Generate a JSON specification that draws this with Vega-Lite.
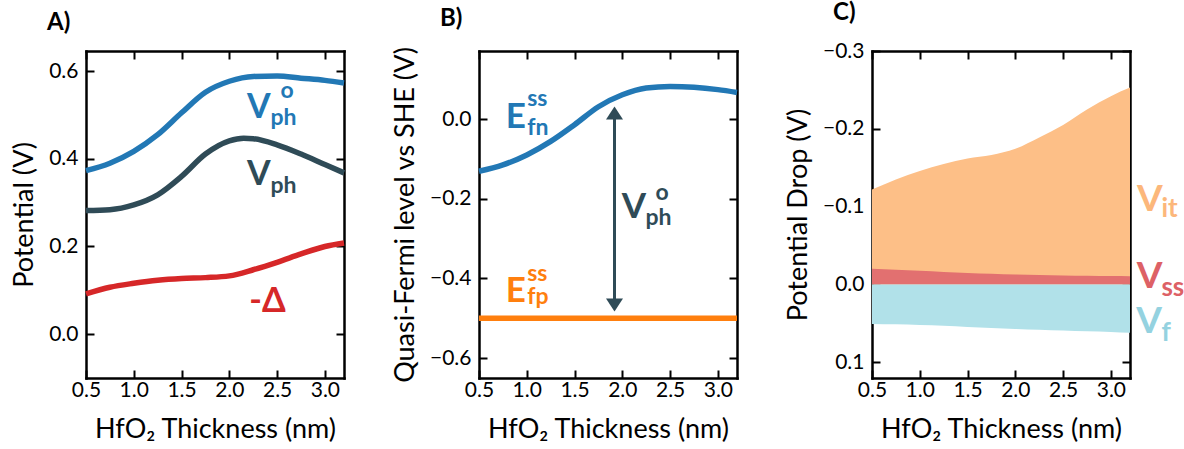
{
  "$schema": "https://vega.github.io/schema/vega-lite/v6.json",
  "background": "white",
  "padding": {"left": 10, "top": 0, "right": 0, "bottom": 0},
  "spacing": 135,
  "bounds": "flush",
  "resolve": {"scale": {"color": "independent", "fill": "independent", "shape": "independent"}},
  "datasets": {
    "lineA": [
      {"x": 0.5, "y": 0.373, "s": "Vph0"}, {"x": 0.75, "y": 0.390, "s": "Vph0"}, {"x": 1.0, "y": 0.417, "s": "Vph0"}, {"x": 1.25, "y": 0.455, "s": "Vph0"}, {"x": 1.5, "y": 0.505, "s": "Vph0"}, {"x": 1.75, "y": 0.552, "s": "Vph0"}, {"x": 2.0, "y": 0.577, "s": "Vph0"}, {"x": 2.25, "y": 0.588, "s": "Vph0"}, {"x": 2.5, "y": 0.589, "s": "Vph0"}, {"x": 2.75, "y": 0.584, "s": "Vph0"}, {"x": 3.0, "y": 0.579, "s": "Vph0"}, {"x": 3.2, "y": 0.573, "s": "Vph0"},
      {"x": 0.5, "y": 0.282, "s": "Vph"}, {"x": 0.75, "y": 0.284, "s": "Vph"}, {"x": 1.0, "y": 0.295, "s": "Vph"}, {"x": 1.25, "y": 0.318, "s": "Vph"}, {"x": 1.5, "y": 0.360, "s": "Vph"}, {"x": 1.75, "y": 0.411, "s": "Vph"}, {"x": 2.0, "y": 0.441, "s": "Vph"}, {"x": 2.15, "y": 0.447, "s": "Vph"}, {"x": 2.25, "y": 0.446, "s": "Vph"}, {"x": 2.5, "y": 0.432, "s": "Vph"}, {"x": 2.75, "y": 0.411, "s": "Vph"}, {"x": 3.0, "y": 0.387, "s": "Vph"}, {"x": 3.2, "y": 0.368, "s": "Vph"},
      {"x": 0.5, "y": 0.092, "s": "Delta"}, {"x": 0.75, "y": 0.107, "s": "Delta"}, {"x": 1.0, "y": 0.116, "s": "Delta"}, {"x": 1.25, "y": 0.123, "s": "Delta"}, {"x": 1.5, "y": 0.127, "s": "Delta"}, {"x": 1.75, "y": 0.129, "s": "Delta"}, {"x": 2.0, "y": 0.133, "s": "Delta"}, {"x": 2.25, "y": 0.147, "s": "Delta"}, {"x": 2.5, "y": 0.164, "s": "Delta"}, {"x": 2.75, "y": 0.183, "s": "Delta"}, {"x": 3.0, "y": 0.200, "s": "Delta"}, {"x": 3.2, "y": 0.208, "s": "Delta"}
    ],
    "labA": [
      {"x": 2.308, "y": 0.493, "t": "V", "s": "Vph0", "part": "big"},
      {"x": 2.536, "y": 0.539, "t": "o", "s": "Vph0", "part": "small"},
      {"x": 2.431, "y": 0.477, "t": "ph", "s": "Vph0", "part": "small"},
      {"x": 2.308, "y": 0.341, "t": "V", "s": "Vph", "part": "big"},
      {"x": 2.431, "y": 0.321, "t": "ph", "s": "Vph", "part": "small"},
      {"x": 2.40, "y": 0.050, "t": "-Δ", "s": "Delta", "part": "big"}
    ],
    "lineB": [
      {"x": 0.5, "y": -0.131, "s": "Efn"}, {"x": 0.75, "y": -0.115, "s": "Efn"}, {"x": 1.0, "y": -0.090, "s": "Efn"}, {"x": 1.25, "y": -0.056, "s": "Efn"}, {"x": 1.5, "y": -0.014, "s": "Efn"}, {"x": 1.75, "y": 0.031, "s": "Efn"}, {"x": 2.0, "y": 0.061, "s": "Efn"}, {"x": 2.25, "y": 0.078, "s": "Efn"}, {"x": 2.5, "y": 0.082, "s": "Efn"}, {"x": 2.75, "y": 0.080, "s": "Efn"}, {"x": 3.0, "y": 0.074, "s": "Efn"}, {"x": 3.2, "y": 0.067, "s": "Efn"},
      {"x": 0.5, "y": -0.5, "s": "Efp"}, {"x": 3.2, "y": -0.5, "s": "Efp"}
    ],
    "labB": [
      {"x": 0.886, "y": -0.0226, "t": "E", "s": "Efn", "part": "big"},
      {"x": 1.004, "y": 0.0319, "t": "ss", "s": "Efn", "part": "small"},
      {"x": 1.004, "y": -0.039, "t": "fn", "s": "Efn", "part": "small"},
      {"x": 0.886, "y": -0.4595, "t": "E", "s": "Efp", "part": "big"},
      {"x": 1.004, "y": -0.4075, "t": "ss", "s": "Efp", "part": "small"},
      {"x": 1.004, "y": -0.463, "t": "fp", "s": "Efp", "part": "small"},
      {"x": 2.12, "y": -0.2486, "t": "V", "s": "Vph0", "part": "big"},
      {"x": 2.347, "y": -0.2026, "t": "o", "s": "Vph0", "part": "small"},
      {"x": 2.242, "y": -0.266, "t": "ph", "s": "Vph0", "part": "small"}
    ],
    "areaC": [
      {"x": 0.5, "hi": -0.122, "lo": 0, "s": "Vit"}, {"x": 0.75, "hi": -0.135, "lo": 0, "s": "Vit"}, {"x": 1.0, "hi": -0.146, "lo": 0, "s": "Vit"}, {"x": 1.25, "hi": -0.155, "lo": 0, "s": "Vit"}, {"x": 1.5, "hi": -0.162, "lo": 0, "s": "Vit"}, {"x": 1.75, "hi": -0.1665, "lo": 0, "s": "Vit"}, {"x": 2.0, "hi": -0.1745, "lo": 0, "s": "Vit"}, {"x": 2.25, "hi": -0.189, "lo": 0, "s": "Vit"}, {"x": 2.5, "hi": -0.205, "lo": 0, "s": "Vit"}, {"x": 2.75, "hi": -0.225, "lo": 0, "s": "Vit"}, {"x": 3.0, "hi": -0.242, "lo": 0, "s": "Vit"}, {"x": 3.2, "hi": -0.253, "lo": 0, "s": "Vit"},
      {"x": 0.5, "hi": -0.0202, "lo": 0, "s": "Vss"}, {"x": 0.75, "hi": -0.019, "lo": 0, "s": "Vss"}, {"x": 1.0, "hi": -0.0178, "lo": 0, "s": "Vss"}, {"x": 1.25, "hi": -0.0163, "lo": 0, "s": "Vss"}, {"x": 1.5, "hi": -0.015, "lo": 0, "s": "Vss"}, {"x": 1.75, "hi": -0.014, "lo": 0, "s": "Vss"}, {"x": 2.0, "hi": -0.0129, "lo": 0, "s": "Vss"}, {"x": 2.25, "hi": -0.0122, "lo": 0, "s": "Vss"}, {"x": 2.5, "hi": -0.0116, "lo": 0, "s": "Vss"}, {"x": 2.75, "hi": -0.0112, "lo": 0, "s": "Vss"}, {"x": 3.0, "hi": -0.0109, "lo": 0, "s": "Vss"}, {"x": 3.2, "hi": -0.0108, "lo": 0, "s": "Vss"},
      {"x": 0.5, "hi": 0, "lo": 0.0505, "s": "Vf"}, {"x": 0.75, "hi": 0, "lo": 0.051, "s": "Vf"}, {"x": 1.0, "hi": 0, "lo": 0.052, "s": "Vf"}, {"x": 1.25, "hi": 0, "lo": 0.053, "s": "Vf"}, {"x": 1.5, "hi": 0, "lo": 0.0544, "s": "Vf"}, {"x": 1.75, "hi": 0, "lo": 0.0557, "s": "Vf"}, {"x": 2.0, "hi": 0, "lo": 0.057, "s": "Vf"}, {"x": 2.25, "hi": 0, "lo": 0.058, "s": "Vf"}, {"x": 2.5, "hi": 0, "lo": 0.059, "s": "Vf"}, {"x": 2.75, "hi": 0, "lo": 0.060, "s": "Vf"}, {"x": 3.0, "hi": 0, "lo": 0.0608, "s": "Vf"}, {"x": 3.2, "hi": 0, "lo": 0.062, "s": "Vf"}
    ],
    "labC": [
      {"x": 3.408, "y": -0.0944, "t": "V", "s": "Vit", "part": "big"},
      {"x": 3.529, "y": -0.087, "t": "it", "s": "Vit", "part": "small"},
      {"x": 3.405, "y": 0.0042, "t": "V", "s": "Vss", "part": "big"},
      {"x": 3.529, "y": 0.0145, "t": "ss", "s": "Vss", "part": "small"},
      {"x": 3.40, "y": 0.0621, "t": "V", "s": "Vf", "part": "big"},
      {"x": 3.529, "y": 0.0724, "t": "f", "s": "Vf", "part": "small"}
    ]
  },
  "hconcat": [
    {
      "width": 258, "height": 327,
      "title": {"text": "A)"},
      "resolve": {"axis": {"x": "independent", "y": "independent"}},
      "layer": [
        {
          "data": {"name": "lineA"},
          "mark": {"type": "line", "strokeWidth": 5.5, "interpolate": "monotone"},
          "encoding": {
            "x": {"field": "x", "type": "quantitative", "scale": {"domain": [0.5, 3.2], "nice": false, "zero": false}, "axis": {"values": [0.5, 1, 1.5, 2, 2.5, 3], "format": ".1f", "title": "HfO₂ Thickness (nm)"}},
            "y": {"field": "y", "type": "quantitative", "scale": {"domain": [-0.1, 0.646], "nice": false, "zero": false}, "axis": {"values": [0, 0.2, 0.4, 0.6], "format": ".1f", "title": "Potential (V)"}},
            "color": {"field": "s", "type": "nominal", "scale": {"domain": ["Vph0", "Vph", "Delta"], "range": ["#2278b5", "#2f4b57", "#d62728"]}, "legend": null}
          }
        },
        {
          "data": {"name": "labA"},
          "transform": [{"filter": "datum.part == 'big'"}],
          "mark": {"type": "text", "fontSize": 34, "fontWeight": "bold", "align": "center", "baseline": "alphabetic", "font": "Lato"},
          "encoding": {
            "x": {"field": "x", "type": "quantitative", "scale": {"domain": [0.5, 3.2], "nice": false, "zero": false}, "axis": {"orient": "top", "labels": false, "title": null, "values": [0.5, 1, 1.5, 2, 2.5, 3]}},
            "y": {"field": "y", "type": "quantitative", "scale": {"domain": [-0.1, 0.646], "nice": false, "zero": false}, "axis": {"orient": "right", "labels": false, "title": null, "values": [0, 0.2, 0.4, 0.6]}},
            "text": {"field": "t"},
            "color": {"field": "s", "type": "nominal", "legend": null}
          }
        },
        {
          "data": {"name": "labA"},
          "transform": [{"filter": "datum.part == 'small'"}],
          "mark": {"type": "text", "fontSize": 23, "fontWeight": "bold", "align": "left", "baseline": "alphabetic", "font": "Lato"},
          "encoding": {
            "x": {"field": "x", "type": "quantitative", "scale": {"domain": [0.5, 3.2], "nice": false, "zero": false}, "axis": null},
            "y": {"field": "y", "type": "quantitative", "scale": {"domain": [-0.1, 0.646], "nice": false, "zero": false}, "axis": null},
            "text": {"field": "t"},
            "color": {"field": "s", "type": "nominal", "legend": null}
          }
        }
      ]
    },
    {
      "width": 258, "height": 327,
      "title": {"text": "B)"},
      "resolve": {"axis": {"x": "independent", "y": "independent"}},
      "layer": [
        {
          "data": {"name": "lineB"},
          "mark": {"type": "line", "strokeWidth": 5.5, "interpolate": "monotone"},
          "encoding": {
            "x": {"field": "x", "type": "quantitative", "scale": {"domain": [0.5, 3.2], "nice": false, "zero": false}, "axis": {"values": [0.5, 1, 1.5, 2, 2.5, 3], "format": ".1f", "title": "HfO₂ Thickness (nm)"}},
            "y": {"field": "y", "type": "quantitative", "scale": {"domain": [-0.65, 0.171], "nice": false, "zero": false}, "axis": {"values": [-0.6, -0.4, -0.2, 0], "format": ".1f", "title": "Quasi-Fermi level vs SHE (V)"}},
            "color": {"field": "s", "type": "nominal", "scale": {"domain": ["Efn", "Efp", "Vph0"], "range": ["#2278b5", "#ff7f0e", "#2f4b57"]}, "legend": null}
          }
        },
        {
          "data": {"values": [{"x": 1.918, "y1": 0.0105, "y2": -0.4615}]},
          "mark": {"type": "rule", "strokeWidth": 3, "color": "#2f4b57"},
          "encoding": {
            "x": {"field": "x", "type": "quantitative", "scale": {"domain": [0.5, 3.2], "nice": false, "zero": false}, "axis": null},
            "y": {"field": "y1", "type": "quantitative", "scale": {"domain": [-0.65, 0.171], "nice": false, "zero": false}, "axis": null},
            "y2": {"field": "y2"}
          }
        },
        {
          "data": {"values": [{"x": 1.918, "y": 0.0105, "d": "up"}, {"x": 1.918, "y": -0.4615, "d": "down"}]},
          "mark": {"type": "point", "filled": true, "opacity": 1, "size": 289, "color": "#2f4b57", "strokeWidth": 0},
          "encoding": {
            "x": {"field": "x", "type": "quantitative", "scale": {"domain": [0.5, 3.2], "nice": false, "zero": false}, "axis": null},
            "y": {"field": "y", "type": "quantitative", "scale": {"domain": [-0.65, 0.171], "nice": false, "zero": false}, "axis": null},
            "shape": {"field": "d", "type": "nominal", "scale": {"domain": ["up", "down"], "range": ["M0,-1L-1,0.53L1,0.53Z", "M0,1L-1,-0.53L1,-0.53Z"]}, "legend": null}
          }
        },
        {
          "data": {"name": "labB"},
          "transform": [{"filter": "datum.part == 'big'"}],
          "mark": {"type": "text", "fontSize": 35, "fontWeight": "bold", "align": "center", "baseline": "alphabetic", "font": "Lato"},
          "encoding": {
            "x": {"field": "x", "type": "quantitative", "scale": {"domain": [0.5, 3.2], "nice": false, "zero": false}, "axis": {"orient": "top", "labels": false, "title": null, "values": [0.5, 1, 1.5, 2, 2.5, 3]}},
            "y": {"field": "y", "type": "quantitative", "scale": {"domain": [-0.65, 0.171], "nice": false, "zero": false}, "axis": {"orient": "right", "labels": false, "title": null, "values": [-0.6, -0.4, -0.2, 0]}},
            "text": {"field": "t"},
            "color": {"field": "s", "type": "nominal", "legend": null}
          }
        },
        {
          "data": {"name": "labB"},
          "transform": [{"filter": "datum.part == 'small'"}],
          "mark": {"type": "text", "fontSize": 23, "fontWeight": "bold", "align": "left", "baseline": "alphabetic", "font": "Lato"},
          "encoding": {
            "x": {"field": "x", "type": "quantitative", "scale": {"domain": [0.5, 3.2], "nice": false, "zero": false}, "axis": null},
            "y": {"field": "y", "type": "quantitative", "scale": {"domain": [-0.65, 0.171], "nice": false, "zero": false}, "axis": null},
            "text": {"field": "t"},
            "color": {"field": "s", "type": "nominal", "legend": null}
          }
        }
      ]
    },
    {
      "width": 258, "height": 327,
      "title": {"text": "C)"},
      "resolve": {"axis": {"x": "independent", "y": "independent"}},
      "layer": [
        {
          "data": {"name": "areaC"},
          "transform": [{"filter": "datum.s == 'Vit'"}],
          "mark": {"type": "area", "interpolate": "monotone", "opacity": 1},
          "encoding": {
            "x": {"field": "x", "type": "quantitative", "scale": {"domain": [0.5, 3.2], "nice": false, "zero": false}, "axis": {"values": [0.5, 1, 1.5, 2, 2.5, 3], "format": ".1f", "title": "HfO₂ Thickness (nm)"}},
            "y": {"field": "hi", "type": "quantitative", "scale": {"domain": [-0.3, 0.12], "nice": false, "zero": false, "reverse": true}, "axis": {"values": [-0.3, -0.2, -0.1, 0, 0.1], "format": ".1f", "title": "Potential Drop (V)"}},
            "y2": {"field": "lo"},
            "fill": {"field": "s", "type": "nominal", "scale": {"domain": ["Vit", "Vss", "Vf"], "range": ["#fdbf87", "#e27070", "#b1e1e9"]}, "legend": null}
          }
        },
        {
          "data": {"name": "areaC"},
          "transform": [{"filter": "datum.s != 'Vit'"}],
          "mark": {"type": "area", "interpolate": "monotone", "opacity": 1},
          "encoding": {
            "x": {"field": "x", "type": "quantitative", "scale": {"domain": [0.5, 3.2], "nice": false, "zero": false}, "axis": null},
            "y": {"field": "hi", "type": "quantitative", "scale": {"domain": [-0.3, 0.12], "nice": false, "zero": false, "reverse": true}, "axis": null},
            "y2": {"field": "lo"},
            "fill": {"field": "s", "type": "nominal", "legend": null}
          }
        },
        {
          "data": {"name": "labC"},
          "transform": [{"filter": "datum.part == 'big'"}],
          "mark": {"type": "text", "fontSize": 37, "fontWeight": "bold", "align": "center", "baseline": "alphabetic", "font": "Lato"},
          "encoding": {
            "x": {"field": "x", "type": "quantitative", "scale": {"domain": [0.5, 3.2], "nice": false, "zero": false}, "axis": {"orient": "top", "labels": false, "title": null, "values": [0.5, 1, 1.5, 2, 2.5, 3]}},
            "y": {"field": "y", "type": "quantitative", "scale": {"domain": [-0.3, 0.12], "nice": false, "zero": false, "reverse": true}, "axis": {"orient": "right", "labels": false, "title": null, "values": [-0.3, -0.2, -0.1, 0, 0.1]}},
            "text": {"field": "t"},
            "color": {"field": "s", "type": "nominal", "scale": {"domain": ["Vit", "Vss", "Vf"], "range": ["#fcb77b", "#dd6166", "#94d2e0"]}, "legend": null}
          }
        },
        {
          "data": {"name": "labC"},
          "transform": [{"filter": "datum.part == 'small'"}],
          "mark": {"type": "text", "fontSize": 26, "fontWeight": "bold", "align": "left", "baseline": "alphabetic", "font": "Lato"},
          "encoding": {
            "x": {"field": "x", "type": "quantitative", "scale": {"domain": [0.5, 3.2], "nice": false, "zero": false}, "axis": null},
            "y": {"field": "y", "type": "quantitative", "scale": {"domain": [-0.3, 0.12], "nice": false, "zero": false, "reverse": true}, "axis": null},
            "text": {"field": "t"},
            "color": {"field": "s", "type": "nominal", "legend": null}
          }
        }
      ]
    }
  ],
  "config": {
    "font": "Lato",
    "view": {"stroke": null},
    "axis": {
      "grid": false,
      "domain": true,
      "domainColor": "black",
      "domainWidth": 2.5,
      "domainCap": "square",
      "ticks": true,
      "tickSize": -8,
      "tickWidth": 2,
      "tickColor": "black",
      "labelFont": "Lato",
      "labelFontSize": 21,
      "labelColor": "black",
      "labelFlush": false,
      "labelOverlap": false,
      "titleFont": "Lato",
      "titleFontSize": 27,
      "titleFontWeight": "normal",
      "titleColor": "black",
      "zindex": 1
    },
    "axisX": {"labelPadding": 9, "titlePadding": 16},
    "axisY": {"labelPadding": 16, "titlePadding": 10},
    "title": {"font": "Lato", "fontSize": 24, "fontWeight": "bold", "color": "black", "anchor": "start", "frame": "group", "baseline": "alphabetic", "offset": 15.5, "dx": -39}
  }
}
